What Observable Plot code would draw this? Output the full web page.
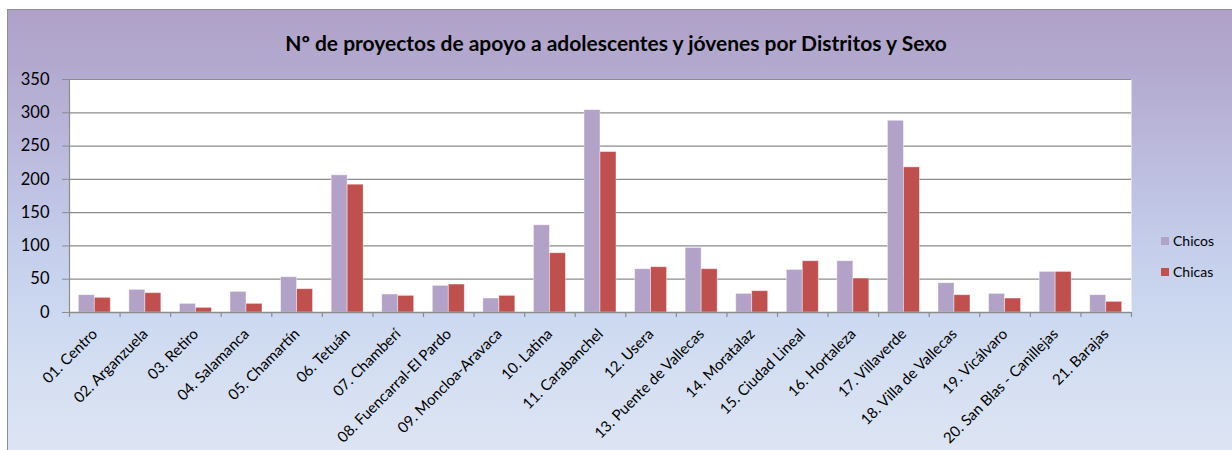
<!DOCTYPE html>
<html><head><meta charset="utf-8">
<script src="https://cdn.jsdelivr.net/npm/d3@7"></script>
<script src="https://cdn.jsdelivr.net/npm/@observablehq/plot@0.6"></script>
<style>
html,body{margin:0;padding:0;background:#fff;width:1232px;height:450px;overflow:hidden;position:relative;}
#frame{position:absolute;left:7px;top:9px;width:1240px;height:460px;border:1px solid #8f8f8f;
 background:linear-gradient(to bottom,#afa1c8 0%,#b3a9cf 12%,#bab7db 28%,#c3cbe9 48%,#cbd8f0 65%,#d6e0f2 82%,#dfe6f4 100%);}
#title{position:absolute;left:0;top:30px;width:1232px;text-align:center;font:bold 21px Lato,sans-serif;color:#000;}
#chart{position:absolute;left:0;top:60px;}
#legend{position:absolute;left:1161px;top:232px;font:14px Lato,sans-serif;color:#000;}
#legend div{height:31px;display:flex;align-items:flex-start;}
#legend span.sw{display:inline-block;width:8px;height:8px;margin-top:5px;margin-right:4px;}
</style>
</head><body>
<div id="frame"></div>
<div id="title">Nº de proyectos de apoyo a adolescentes y jóvenes por Distritos y Sexo</div>
<div id="chart"></div>
<div id="legend"></div>
<script>
const districts = ["01. Centro","02. Arganzuela","03. Retiro","04. Salamanca","05. Chamartín","06. Tetuán","07. Chamberí","08. Fuencarral-El Pardo","09. Moncloa-Aravaca","10. Latina","11. Carabanchel","12. Usera","13. Puente de Vallecas","14. Moratalaz","15. Ciudad Lineal","16. Hortaleza","17. Villaverde","18. Villa de Vallecas","19. Vicálvaro","20. San Blas - Canillejas","21. Barajas"];
const chicos = [26,34,13,31,53,206,27,40,21,131,304,65,97,28,64,77,288,44,28,61,26];
const chicas = [22,29,7,13,35,192,25,42,25,89,241,68,65,32,77,51,218,26,21,61,16];
const series = ["Chicos","Chicas"];
const colors = ["#b3a2c7","#c0504d"];
const yTicks = [0,50,100,150,200,250,300,350];

const W = 1232, H = 390, mL = 69, mR = 101, mT = 19, mB = 138;
const step = (W - mL - mR) / districts.length;
const barW = step * 0.316;
const gap = step - 2 * barW;
const grid = "#8c8c8c";

const boys = districts.map((d, i) => ({district: d, v: chicos[i]}));
const girls = districts.map((d, i) => ({district: d, v: chicas[i]}));

const chart = Plot.plot({
  width: W, height: H,
  marginLeft: mL, marginRight: mR, marginTop: mT, marginBottom: mB,
  style: {fontFamily: "Lato, sans-serif", background: "transparent", color: "#000", overflow: "visible"},
  x: {type: "band", domain: districts, padding: 0, round: false},
  y: {domain: [0, 350]},
  marks: [
    Plot.frame({fill: "white", stroke: "none"}),
    Plot.ruleY(yTicks, {stroke: grid, strokeWidth: 1.2}),
    Plot.barY(boys, {x: "district", y: "v", fill: colors[0], stroke: "#ffffff", strokeOpacity: 0.5, strokeWidth: 0.8,
      insetLeft: gap / 2, insetRight: gap / 2 + barW}),
    Plot.barY(girls, {x: "district", y: "v", fill: colors[1], stroke: "#ffffff", strokeOpacity: 0.5, strokeWidth: 0.8,
      insetLeft: gap / 2 + barW, insetRight: gap / 2}),
    Plot.ruleX([districts[0]], {x: d => d, dx: -step / 2, y1: 0, y2: 350, stroke: grid, strokeWidth: 1.2}),
    Plot.ruleX(districts, {x: d => d, dx: -step / 2, y1: 0, y2: -7.5, stroke: grid, strokeWidth: 1.2}),
    Plot.ruleX([districts[districts.length - 1]], {x: d => d, dx: step / 2, y1: 0, y2: -7.5, stroke: grid, strokeWidth: 1.2}),
    Plot.ruleY([0], {stroke: grid, strokeWidth: 1.5}),
    Plot.axisY(yTicks, {tickSize: 7, tickPadding: 13, fontSize: 16.5, stroke: grid, label: null}),
    Plot.axisX({tickRotate: -45, tickSize: 0, tickPadding: 19, fontSize: 15, label: null})
  ]
});
document.getElementById("chart").appendChild(chart);

const leg = document.getElementById("legend");
series.forEach((s, i) => {
  const row = document.createElement("div");
  row.innerHTML = `<span class="sw" style="background:${colors[i]}"></span><span>${s}</span>`;
  leg.appendChild(row);
});
</script>
</body></html>
